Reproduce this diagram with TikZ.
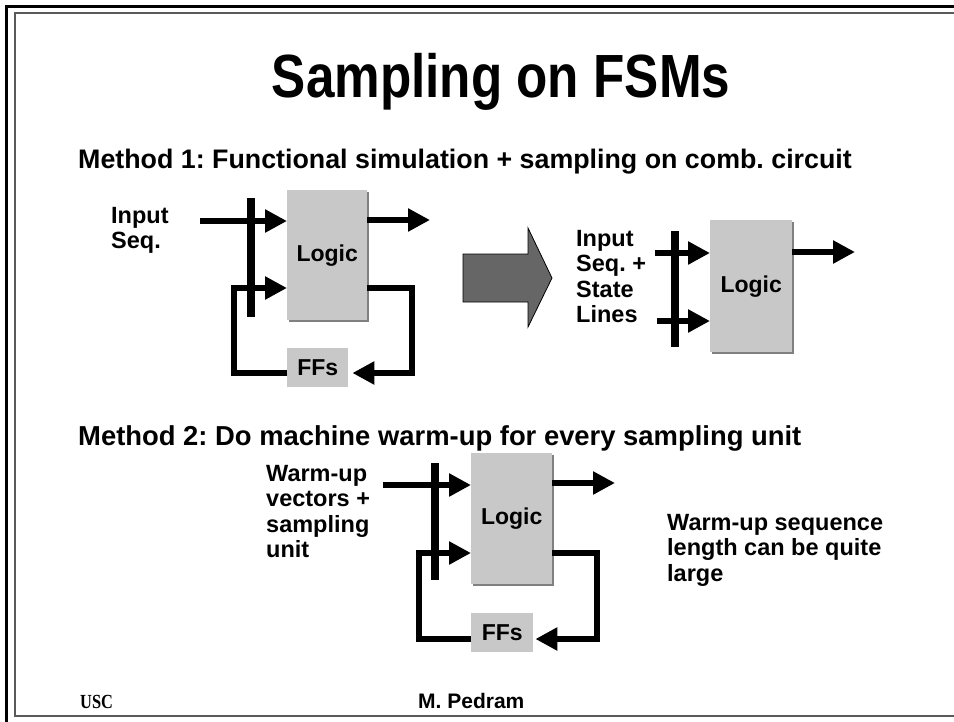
\documentclass[tikz,border=0pt]{standalone}
\usepackage{fontspec}
\setmainfont{Liberation Sans}
\newfontfamily\serifbf{Liberation Serif}
\usetikzlibrary{arrows.meta,shadows}
\definecolor{boxgray}{RGB}{200,200,200}
\definecolor{shadgray}{RGB}{128,128,128}
\definecolor{bigarrow}{RGB}{102,102,102}
\definecolor{framegray}{RGB}{90,90,90}
\frenchspacing
\begin{document}
\begin{tikzpicture}[x=1pt,y=-1pt,
  wire/.style={line width=6pt,-{Triangle[length=22pt,width=22pt]}},
  loopwire/.style={line width=6pt,line join=miter,-{Triangle[length=22pt,width=22pt]}},
  busbar/.style={line width=8pt},
  lbl/.style={font=\fontsize{23.5}{25.5}\selectfont\bfseries,align=left,anchor=north west,inner sep=0pt},
  heading/.style={anchor=base west,inner sep=0pt,font=\fontsize{26.8}{30}\selectfont\bfseries},
  logicbox/.style={fill=boxgray,draw=none,inner sep=0pt,anchor=north west,
     font=\fontsize{23}{26}\selectfont\bfseries,
     drop shadow={shadow xshift=2pt,shadow yshift=-2pt,fill=shadgray,opacity=1}},
  ffbox/.style={fill=boxgray,draw=none,inner sep=0pt,anchor=north west,
     font=\fontsize{23}{26}\selectfont\bfseries},
]
\useasboundingbox (0,0) rectangle (954,721);
\clip (0,0) rectangle (954,721);
% frames
\draw[line width=3pt] (6.5,6) rectangle (1000,760);
\draw[line width=2pt,framegray] (15,12.5) rectangle (990,715.5);

% titles
\node[anchor=base,inner sep=0pt,font=\fontsize{61}{64}\selectfont\bfseries,xscale=0.84] (title) at (501,97) {Sampling on FSMs};
\node[heading] (m1) at (78,168) {Method 1: Functional simulation + sampling on comb. circuit};
\node[heading,font=\fontsize{27.4}{30}\selectfont\bfseries] (m2) at (78,445) {Method 2: Do machine warm-up for every sampling unit};

% ---------- Method 1, left diagram ----------
\node[logicbox,minimum width=80pt,minimum height=130pt] (L1) at (287,190) {Logic};
\node[ffbox,minimum width=61pt,minimum height=39pt] (F1) at (287,348) {FFs};
\node[lbl] (t1) at (111,207) {Input\\Seq.};
\coordinate (in1) at (200,221);
\coordinate (out1) at (430,220);
\coordinate (b1t) at (251,198);
\coordinate (b1b) at (251,317);
\draw[wire] (in1) -- (in1 -| L1.west);
\draw[wire] (L1.east |- out1) -- (out1);
\draw[busbar] (b1t) -- (b1b);
\draw[loopwire] (F1.west |- 0,373) -- (234,373) -- (234,288) -- (L1.west |- 0,288);
\draw[loopwire] (L1.east |- 0,288) -- (412,288) -- (412,373) -- ([xshift=4pt]F1.east |- 0,373);

% big arrow
\draw[fill=bigarrow,line width=0.8pt] (463,254) -- (528,254) -- (528,228) -- (552,278) -- (528,327) -- (528,302) -- (463,302) -- cycle;

% ---------- Method 1, right diagram ----------
\node[logicbox,minimum width=82pt,minimum height=132pt] (L2) at (710,220) {Logic};
\node[lbl] (t2) at (576,230) {Input\\Seq. +\\State\\Lines};
\coordinate (in2a) at (655,253);
\coordinate (in2b) at (657,321);
\coordinate (out2) at (855,252);
\draw[busbar] (675,231) -- (675,347);
\draw[wire] (in2a) -- (in2a -| L2.west);
\draw[wire] (in2b) -- (in2b -| L2.west);
\draw[wire] (L2.east |- out2) -- (out2);

% ---------- Method 2 ----------
\node[logicbox,minimum width=81pt,minimum height=131pt] (L3) at (471,453) {Logic};
\node[ffbox,minimum width=62pt,minimum height=39pt] (F3) at (471,613) {FFs};
\node[lbl] (t3) at (266,465) {Warm-up\\vectors +\\sampling\\unit};
\node[lbl] (t4) at (667,514) {Warm-up sequence\\length can be quite\\large};
\coordinate (in3) at (383,485);
\coordinate (out3) at (615,483);
\draw[wire] (in3) -- (in3 -| L3.west);
\draw[wire] (L3.east |- out3) -- (out3);
\draw[busbar] (435,463) -- (435,580);
\draw[loopwire] (F3.west |- 0,639) -- (419,639) -- (419,553) -- (L3.west |- 0,553);
\draw[loopwire] (L3.east |- 0,553) -- (597,553) -- (597,639) -- ([xshift=2pt]F3.east |- 0,639);

% footer
\node[anchor=base west,inner sep=0pt,font=\fontsize{20}{22}\serifbf\bfseries,xscale=0.82] (usc) at (80,708) {USC};
\node[anchor=base west,inner sep=0pt,font=\fontsize{21}{22}\selectfont\bfseries] (auth) at (418,708) {M. Pedram};
\end{tikzpicture}
\end{document}
